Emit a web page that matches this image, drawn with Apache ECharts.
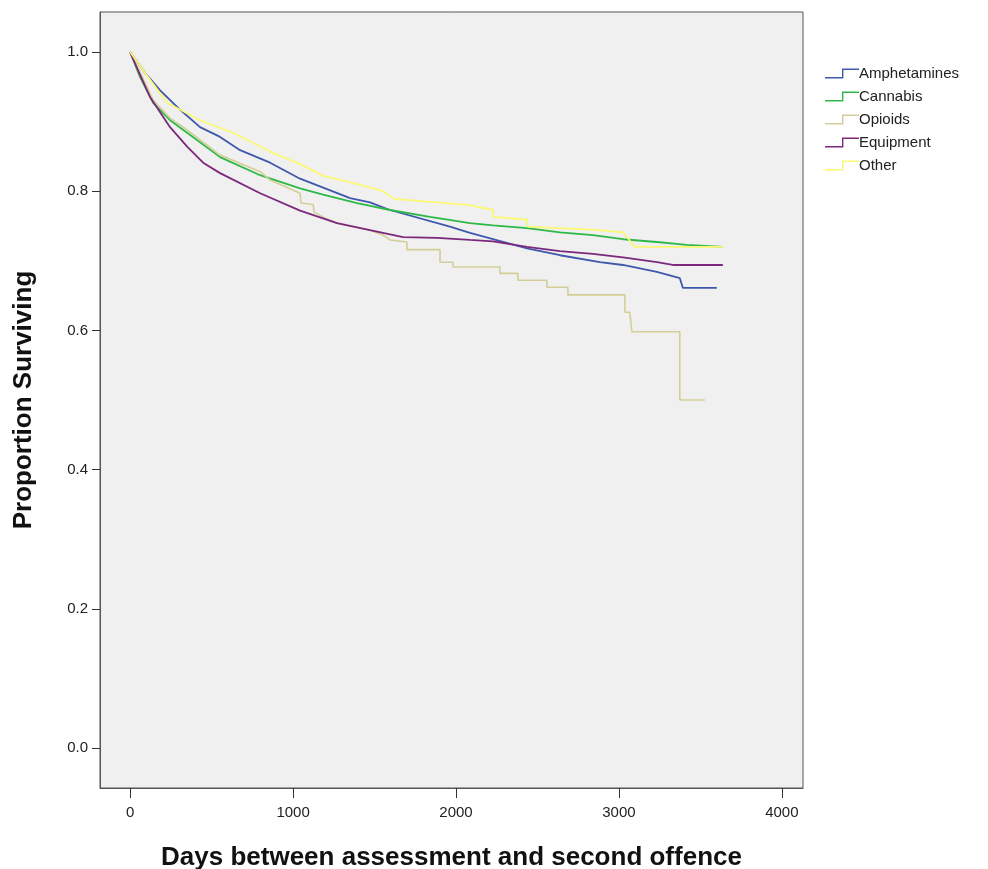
<!DOCTYPE html>
<html>
<head>
<meta charset="utf-8">
<title>Survival by drug type</title>
<script src="https://cdn.jsdelivr.net/npm/echarts@6/dist/echarts.min.js"></script>
<style>
  html, body { margin: 0; padding: 0; background: #ffffff; }
  #chart { width: 988px; height: 869px; }
</style>
</head>
<body>
<div id="chart"></div>
<script>
// Kaplan-Meier survival estimates: [days, proportion surviving]
const groupNames = ['Amphetamines', 'Cannabis', 'Opioids', 'Equipment', 'Other'];

const amphetamines = [
  [0, 1.0], [92, 0.970], [184, 0.945], [307, 0.917], [429, 0.892], [552, 0.878],
  [675, 0.859], [859, 0.841], [1043, 0.818], [1350, 0.790], [1472, 0.784],
  [1595, 0.773], [1963, 0.749], [2086, 0.740], [2436, 0.718], [2638, 0.708],
  [2883, 0.698], [3025, 0.694], [3233, 0.684], [3374, 0.675], [3393, 0.661],
  [3601, 0.661]
];

const cannabis = [
  [0, 1.0], [61, 0.964], [141, 0.927], [245, 0.902], [350, 0.884], [552, 0.849],
  [798, 0.823], [1043, 0.804], [1184, 0.795], [1393, 0.783], [1595, 0.773],
  [1840, 0.763], [2086, 0.754], [2227, 0.751], [2436, 0.747], [2638, 0.741],
  [2840, 0.737], [3025, 0.731], [3233, 0.727], [3417, 0.723], [3638, 0.720]
];

// Fewer events: the later drops are listed at both ends of each step
const opioids = [
  [0, 1.0], [61, 0.971], [141, 0.931], [245, 0.905], [350, 0.888], [552, 0.852],
  [798, 0.828], [859, 0.816], [1043, 0.797], [1048, 0.783], [1123, 0.781],
  [1130, 0.770], [1184, 0.763], [1270, 0.754], [1472, 0.744], [1552, 0.737],
  [1595, 0.730], [1699, 0.727], [1699, 0.716], [1902, 0.716], [1902, 0.698],
  [1982, 0.698], [1982, 0.691], [2270, 0.691], [2270, 0.682], [2380, 0.682],
  [2380, 0.672], [2558, 0.672], [2558, 0.662], [2687, 0.662], [2687, 0.651],
  [3037, 0.651], [3037, 0.626], [3067, 0.626], [3080, 0.598], [3374, 0.598],
  [3374, 0.500], [3528, 0.500]
];

const equipment = [
  [0, 1.0], [61, 0.967], [123, 0.935], [245, 0.892], [350, 0.864], [448, 0.841],
  [552, 0.826], [798, 0.797], [1043, 0.772], [1270, 0.754], [1472, 0.744],
  [1675, 0.734], [1883, 0.733], [2086, 0.730], [2227, 0.728], [2436, 0.720],
  [2638, 0.714], [2840, 0.710], [3025, 0.705], [3233, 0.698], [3331, 0.694],
  [3638, 0.694]
];

const other = [
  [0, 1.0], [123, 0.960], [227, 0.927], [429, 0.902], [632, 0.884], [877, 0.855],
  [1043, 0.839], [1184, 0.822], [1350, 0.813], [1552, 0.800], [1620, 0.789],
  [2086, 0.780], [2227, 0.773], [2230, 0.763], [2436, 0.759], [2440, 0.749],
  [2883, 0.744], [3025, 0.741], [3098, 0.720], [3638, 0.720]
];

const xTicks = [0, 1000, 2000, 3000, 4000];
const yTicks = [0, 0.2, 0.4, 0.6, 0.8, 1.0];

const groupColors = ['#3E58AC', '#2EB848', '#D3CE97', '#7C287D', '#FBF873'];
const groupData = [amphetamines, cannabis, opioids, equipment, other];

// Small step-shaped key for the legend
const stepIcon = 'path://M0,8.6 L17,8.6 L17,0 L34,0 L34,1.4 L18.4,1.4 L18.4,10 L0,10 Z';

const chart = echarts.init(document.getElementById('chart'), null, { renderer: 'canvas' });

const fontFamily = 'Liberation Sans, Arial, sans-serif';
const axisText = { color: '#222', fontFamily: fontFamily, fontSize: 15 };
const nameText = { color: '#111', fontFamily: fontFamily, fontSize: 26, fontWeight: 'bold' };

chart.setOption({
  animation: false,
  backgroundColor: '#ffffff',
  grid: {
    left: 100, right: 185, top: 12, bottom: 81,
    outerBoundsMode: 'none',
    show: true, backgroundColor: '#F0F0F0', borderColor: '#555555', borderWidth: 1
  },
  legend: {
    orient: 'vertical',
    left: 820, top: 61,
    itemWidth: 34, itemHeight: 10, itemGap: 8,
    icon: stepIcon,
    itemStyle: { borderWidth: 0 },
    textStyle: { color: '#222', fontFamily: fontFamily, fontSize: 15, padding: [0, 0, 0, -5] },
    data: groupNames
  },
  xAxis: {
    type: 'value', min: -185, max: 4130,
    name: 'Days between assessment and second offence',
    nameLocation: 'middle', nameGap: 57, nameTextStyle: nameText,
    axisLine: { show: true, onZero: false, lineStyle: { color: '#555555', width: 1 } },
    axisTick: { show: true, inside: false, length: 10, customValues: xTicks, lineStyle: { color: '#333' } },
    axisLabel: { customValues: xTicks, margin: 17, formatter: v => String(v), ...axisText },
    splitLine: { show: false }
  },
  yAxis: {
    type: 'value', min: -0.0575, max: 1.0575,
    name: 'Proportion Surviving',
    nameLocation: 'middle', nameGap: 63, nameRotate: 90, nameTextStyle: nameText,
    axisLine: { show: true, onZero: false, lineStyle: { color: '#555555', width: 1 } },
    axisTick: { show: true, inside: false, length: 8, customValues: yTicks, lineStyle: { color: '#333' } },
    axisLabel: { customValues: yTicks, margin: 12, formatter: v => v.toFixed(1), ...axisText },
    splitLine: { show: false }
  },
  series: groupNames.map((name, i) => ({
    name: name,
    type: 'line',
    data: groupData[i],
    showSymbol: false,
    symbol: 'none',
    color: groupColors[i],
    lineStyle: { color: groupColors[i], width: i === 2 ? 1.6 : 1.8 },
    emphasis: { disabled: true }
  }))
});
</script>
</body>
</html>
